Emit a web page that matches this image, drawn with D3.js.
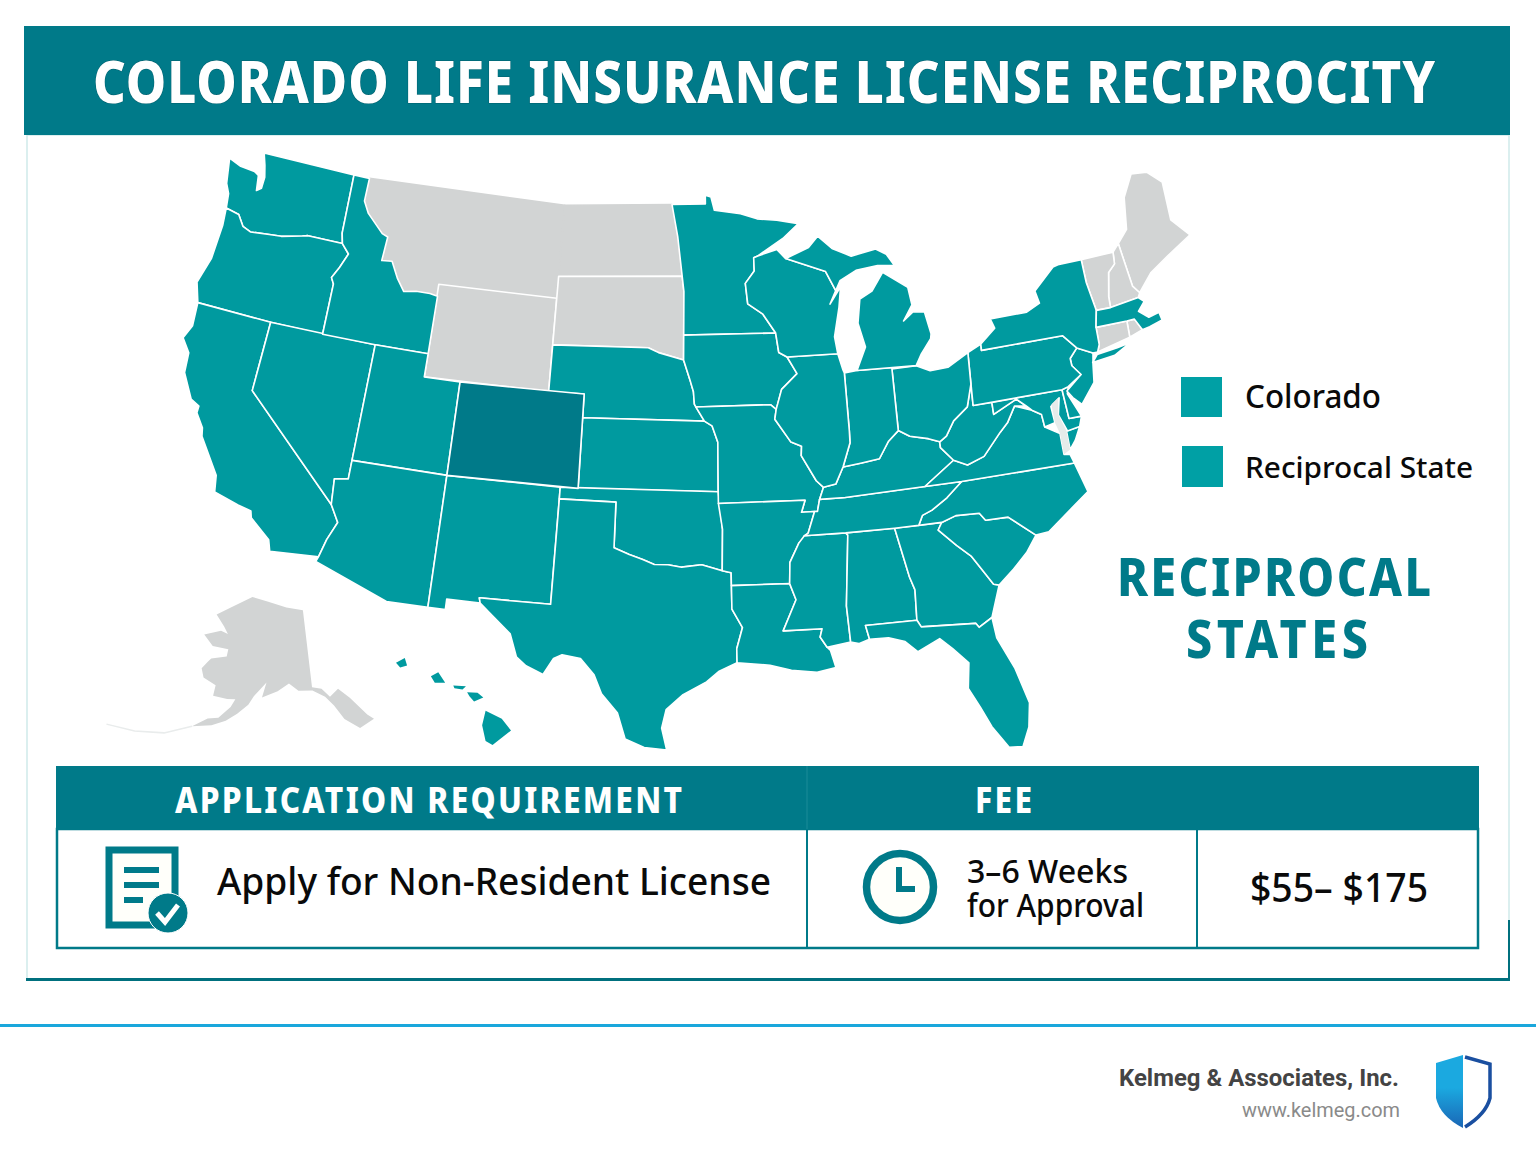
<!DOCTYPE html>
<html>
<head>
<meta charset="utf-8">
<title>Colorado Life Insurance License Reciprocity</title>
<script src="https://cdn.jsdelivr.net/npm/d3@7.9.0/dist/d3.min.js"></script>
<style>
html, body { margin: 0; padding: 0; background: #fff; }
svg { display: block; }
</style>
</head>
<body>
<svg id="chart" width="1536" height="1154"></svg>
<script>
// state outlines as [lon, lat], estimated by eye
const WA = [[-124.7,48.38],[-123.9,48.17],[-123,48.12],[-122.7,48],[-122.55,47.35],[-122.3,47.5],[-122.3,48],[-122.5,48.5],[-122.76,49],[-117.03,49],[-117.04,46.43],[-116.92,45.99],[-118.98,46],[-119.3,45.93],[-120.5,45.7],[-121.2,45.65],[-122.3,45.55],[-122.8,45.7],[-123.2,46.15],[-124,46.27],[-124.1,46.9],[-124.4,47.3]];
const OR = [[-124,46.27],[-123.2,46.15],[-122.8,45.7],[-122.3,45.55],[-121.2,45.65],[-120.5,45.7],[-119.3,45.93],[-118.98,46],[-116.92,45.99],[-116.47,45.6],[-116.85,44.95],[-117.2,44.45],[-117.03,44.2],[-117.03,42],[-120,42],[-124.21,42],[-124.55,42.84],[-124.1,44],[-123.95,45.5]];
const CA = [[-124.21,42],[-120,42],[-120,39],[-114.63,35],[-114.13,34.3],[-114.5,33.5],[-114.72,32.72],[-117.12,32.53],[-117.3,33],[-118.4,33.75],[-118.5,34.03],[-119.2,34.15],[-120.5,34.45],[-120.65,35.15],[-121.9,36.6],[-122,36.95],[-122.5,37.5],[-122.5,37.8],[-123,38],[-123.75,39],[-123.85,39.85],[-124.4,40.4],[-124.1,41]];
const NV = [[-120,42],[-114.04,42],[-114.04,36.2],[-114.74,36.1],[-114.63,35],[-120,39]];
const ID = [[-117.03,49],[-116.05,49],[-116.05,48],[-115.7,47.5],[-114.7,46.75],[-114.35,46.65],[-114.5,45.6],[-113.9,45.65],[-113.45,44.95],[-113,44.45],[-112.3,44.55],[-111.5,44.55],[-111.05,44.48],[-111.05,42],[-114.04,42],[-117.03,42],[-117.03,44.2],[-117.2,44.45],[-116.85,44.95],[-116.47,45.6],[-116.92,45.99],[-117.04,46.43]];
const MT = [[-116.05,49],[-104.05,49],[-104.05,45],[-111.05,45],[-111.05,44.48],[-111.5,44.55],[-112.3,44.55],[-113,44.45],[-113.45,44.95],[-113.9,45.65],[-114.5,45.6],[-114.35,46.65],[-114.7,46.75],[-115.7,47.5],[-116.05,48]];
const WY = [[-111.05,45],[-104.05,45],[-104.05,41],[-111.05,41]];
const UT = [[-114.04,42],[-111.05,42],[-111.05,41],[-109.05,41],[-109.05,37],[-114.04,37]];
const CO = [[-109.05,41],[-102.05,41],[-102.05,37],[-109.05,37]];
const AZ = [[-114.04,37],[-109.05,37],[-109.05,31.33],[-111.07,31.33],[-114.81,32.5],[-114.72,32.72],[-114.5,33.5],[-114.13,34.3],[-114.63,35],[-114.74,36.1],[-114.04,36.2]];
const NM = [[-109.05,37],[-103,37],[-103.04,32],[-106.6,32],[-106.53,31.78],[-108.2,31.78],[-108.2,31.33],[-109.05,31.33]];
const ND = [[-104.05,49],[-97.23,49],[-96.85,47.6],[-96.56,45.94],[-104.05,45.94]];
const SD = [[-104.05,45.94],[-96.56,45.94],[-96.45,45.3],[-96.45,43.5],[-96.45,42.49],[-97.9,42.8],[-98.5,43],[-104.05,43]];
const NE = [[-104.05,43],[-98.5,43],[-97.9,42.8],[-96.45,42.49],[-96.1,41.7],[-95.9,41.2],[-95.85,40.7],[-95.31,40],[-102.05,40],[-102.05,41],[-104.05,41]];
const KS = [[-102.05,40],[-95.31,40],[-94.9,39.8],[-94.6,39.1],[-94.62,37],[-102.05,37]];
const OK = [[-103,37],[-94.62,37],[-94.43,35.4],[-94.48,33.64],[-95.5,33.9],[-96.5,33.8],[-97.2,33.9],[-97.9,33.9],[-98.5,34.1],[-99.2,34.3],[-100,34.56],[-100,36.5],[-103,36.5]];
const TX = [[-103,36.5],[-100,36.5],[-100,34.56],[-99.2,34.3],[-98.5,34.1],[-97.9,33.9],[-97.2,33.9],[-96.5,33.8],[-95.5,33.9],[-94.48,33.64],[-94.04,33.55],[-94.04,33],[-94.04,32],[-93.55,31.2],[-93.85,30.3],[-93.85,29.7],[-94.7,29.35],[-95.3,28.9],[-96.4,28.35],[-97.2,27.7],[-97.4,26.9],[-97.15,25.96],[-98.2,26.05],[-99.1,26.4],[-99.5,27.5],[-100.3,28.3],[-100.7,29.1],[-101.4,29.77],[-102.3,29.88],[-102.7,29.7],[-103.15,28.98],[-104,29.3],[-104.5,29.65],[-104.9,30.6],[-106,31.4],[-106.53,31.78],[-106.6,32],[-103.04,32]];
const MN = [[-97.23,49],[-95.15,49],[-95.15,49.38],[-94.8,49.3],[-94.6,48.72],[-93,48.55],[-92,48.3],[-90.8,48.2],[-89.5,48],[-90.5,47.4],[-92.05,46.72],[-92.3,46.65],[-92.3,46.1],[-92.85,45.6],[-92.75,44.75],[-91.9,44.3],[-91.22,43.5],[-96.45,43.5],[-96.45,45.3],[-96.56,45.94],[-96.85,47.6]];
const IA = [[-96.45,43.5],[-91.22,43.5],[-91.1,42.7],[-90.65,42.5],[-90.15,41.8],[-91.05,41.2],[-91.4,40.4],[-91.7,40.6],[-95.77,40.58],[-95.85,40.7],[-95.9,41.2],[-96.1,41.7],[-96.45,42.49]];
const MO = [[-95.77,40.58],[-91.7,40.6],[-91.4,40.4],[-91.5,40],[-90.7,39],[-90.15,38.8],[-90.2,38.4],[-89.5,37.3],[-89.15,37],[-89.4,36.5],[-89.55,36],[-90.37,36],[-90.15,36.5],[-94.62,36.5],[-94.62,37],[-94.6,39.1],[-94.9,39.8],[-95.31,40]];
const AR = [[-94.62,36.5],[-90.15,36.5],[-90.37,36],[-89.7,36],[-90.1,35.1],[-90.6,34.7],[-91.1,33.9],[-91.17,33],[-94.04,33],[-94.04,33.55],[-94.48,33.64],[-94.43,35.4]];
const LA = [[-94.04,33],[-91.17,33],[-90.9,32.3],[-91.6,31],[-89.73,31],[-89.85,30.65],[-89.55,30.2],[-89.4,30.05],[-89.2,29.3],[-90.1,29.15],[-91.3,29.3],[-92.3,29.55],[-93.85,29.7],[-93.85,30.3],[-93.55,31.2],[-94.04,32]];
const MS = [[-90.3,35],[-88.2,35],[-88.1,34.9],[-88.47,31.9],[-88.4,30.35],[-89.55,30.2],[-89.85,30.65],[-89.73,31],[-91.6,31],[-90.9,32.3],[-91.17,33],[-91.1,33.9],[-90.6,34.7]];
const AL = [[-88.2,35],[-85.6,35],[-85.18,32.87],[-85,32.3],[-85.05,31],[-87.6,31],[-87.45,30.4],[-88,30.25],[-88.4,30.35],[-88.47,31.9],[-88.1,34.9]];
const GA = [[-85.6,35],[-83.1,35],[-83.35,34.7],[-82.55,33.95],[-81.9,33.4],[-81.4,32.6],[-81.1,32.1],[-80.85,32.03],[-81.4,30.7],[-82.05,30.36],[-82.2,30.55],[-84.86,30.7],[-85.05,31],[-85,32.3],[-85.18,32.87]];
const FL = [[-87.6,31],[-85.05,31],[-84.86,30.7],[-82.2,30.55],[-82.05,30.36],[-81.4,30.7],[-81.25,29.8],[-80.55,28.4],[-80.03,26.8],[-80.15,25.75],[-80.5,24.95],[-81.1,25.0],[-81.75,26],[-82.2,26.9],[-82.75,27.8],[-82.65,28.9],[-83.4,29.6],[-84,30.1],[-85.1,29.65],[-85.7,30.15],[-86.5,30.38],[-87.45,30.4]];
const SC = [[-83.35,34.7],[-83.1,35],[-82.3,35.2],[-81.05,35.15],[-80.8,34.82],[-79.67,34.8],[-78.55,33.86],[-79.2,33.2],[-80,32.6],[-80.85,32.03],[-81.1,32.1],[-81.4,32.6],[-81.9,33.4],[-82.55,33.95]];
const NC = [[-81.68,36.59],[-75.87,36.55],[-75.5,35.25],[-76.5,34.7],[-77.9,33.9],[-78.55,33.86],[-79.67,34.8],[-80.8,34.82],[-81.05,35.15],[-82.3,35.2],[-83.1,35],[-84.32,35],[-84.05,35.4],[-83.5,35.57],[-82.6,36]];
const TN = [[-90.3,35],[-88.2,35],[-85.6,35],[-84.32,35],[-84.05,35.4],[-83.5,35.57],[-82.6,36],[-81.68,36.59],[-83.68,36.6],[-88.07,36.5],[-89.4,36.5],[-89.55,36],[-89.7,36],[-90.1,35.1]];
const KY = [[-89.4,36.5],[-88.07,36.5],[-83.68,36.6],[-81.97,37.54],[-82.6,38.15],[-82.6,38.4],[-83.2,38.6],[-84.2,38.8],[-84.8,39.1],[-85.4,38.7],[-86,38],[-87,37.9],[-88.05,37.8],[-88.5,37.1],[-89.15,37]];
const VA = [[-83.68,36.6],[-81.68,36.59],[-75.87,36.55],[-76,36.95],[-76.3,37],[-76.3,37.9],[-77,38.3],[-77.05,38.85],[-77.5,39.1],[-78.35,39.4],[-78.85,38.75],[-79.3,38.4],[-80.3,37.5],[-81.25,37.25],[-81.97,37.54]];
const VAshore = [[-75.95,37.95],[-75.25,38.03],[-75.6,37.5],[-75.95,37.15]];
const WV = [[-81.97,37.54],[-81.25,37.25],[-80.3,37.5],[-79.3,38.4],[-78.85,38.75],[-78.35,39.4],[-77.75,39.32],[-78.2,39.68],[-79.48,39.2],[-79.48,39.72],[-80.52,39.72],[-80.52,40.64],[-80.85,39.7],[-81.7,39.2],[-82.2,38.6],[-82.6,38.4],[-82.6,38.15]];
const MD = [[-79.48,39.72],[-75.79,39.72],[-75.7,38.46],[-75.05,38.45],[-75.25,38.03],[-75.9,37.95],[-76.2,38.7],[-76,39.4],[-76.5,39.1],[-76.45,38.4],[-77,38.3],[-77.05,38.85],[-77.5,39.1],[-77.75,39.32],[-78.2,39.68],[-79.48,39.2]];
const DE = [[-75.79,39.72],[-75.45,39.8],[-75.55,39.5],[-75.05,38.45],[-75.7,38.46]];
const NJ = [[-75.55,39.63],[-74.7,40.2],[-75.1,40.65],[-75.13,40.97],[-74.7,41.36],[-73.9,41],[-74,40.5],[-74.1,39.75],[-74.9,38.93],[-75.3,39.3]];
const PA = [[-80.52,39.72],[-80.52,42],[-79.76,42.27],[-79.76,42],[-75.35,42],[-74.7,41.36],[-75.13,40.97],[-75.1,40.65],[-74.7,40.2],[-75.45,39.8],[-75.79,39.72]];
const NY = [[-79.76,42],[-79.76,42.27],[-78.9,42.85],[-79.05,43.27],[-77,43.28],[-76.2,43.55],[-76.3,44.1],[-75,44.95],[-74.7,45],[-73.35,45],[-73.4,44],[-73.25,42.75],[-73.5,42.05],[-73.5,41.3],[-73.65,41],[-73.9,41],[-74.7,41.36],[-75.35,42]];
const LongIsland = [[-74,40.6],[-73.7,40.9],[-72.6,41],[-71.9,41.08],[-72.8,40.7]];
const OH = [[-84.82,41.7],[-83.45,41.73],[-82.7,41.45],[-81.7,41.5],[-80.52,42],[-80.52,40.64],[-80.85,39.7],[-81.7,39.2],[-82.2,38.6],[-82.6,38.4],[-83.2,38.6],[-84.2,38.8],[-84.8,39.1]];
const IN = [[-87.53,41.7],[-86.8,41.76],[-84.82,41.76],[-84.8,39.1],[-85.4,38.7],[-86,38],[-87,37.9],[-88.05,37.8],[-87.55,38.8],[-87.53,39.3]];
const IL = [[-90.65,42.5],[-87.8,42.5],[-87.6,41.85],[-87.53,41.7],[-87.53,39.3],[-87.55,38.8],[-88.05,37.8],[-88.5,37.1],[-89.15,37],[-89.5,37.3],[-90.2,38.4],[-90.15,38.8],[-90.7,39],[-91.5,40],[-91.4,40.4],[-91.05,41.2],[-90.15,41.8]];
const WI = [[-92.05,46.72],[-90.9,46.95],[-90.4,46.55],[-88.1,45.9],[-87.6,45.1],[-88,44.55],[-87.3,45.25],[-87.5,44.4],[-87.9,43.2],[-87.8,42.5],[-90.65,42.5],[-91.1,42.7],[-91.22,43.5],[-91.9,44.3],[-92.75,44.75],[-92.85,45.6],[-92.3,46.1],[-92.3,46.65]];
const MIlower = [[-86.8,41.76],[-83.45,41.73],[-83.1,42.2],[-82.5,42.8],[-82.45,43],[-82.65,43.95],[-83.3,44],[-83.9,43.65],[-83.3,44.3],[-83.4,45.05],[-84.75,45.75],[-85.5,45],[-86.25,44.7],[-86.5,43.7],[-86.2,42.7]];
const MIupper = [[-90.4,46.55],[-89,46.95],[-88.4,47.4],[-87.6,46.85],[-86.5,46.5],[-85,46.75],[-84.4,46.5],[-84,46],[-85,46.05],[-86.3,45.9],[-87.3,45.5],[-87.6,45.1],[-88.1,45.9]];
const VT = [[-73.35,45],[-71.5,45],[-71.6,44.5],[-72.05,44.2],[-72.4,43.2],[-72.46,42.73],[-73.25,42.75],[-73.4,44]];
const NH = [[-71.5,45],[-71.08,45.3],[-70.98,43.4],[-70.7,43.05],[-70.85,42.87],[-72.46,42.73],[-72.4,43.2],[-72.05,44.2],[-71.6,44.5]];
const ME = [[-71.08,45.3],[-70.4,45.8],[-70,47.15],[-69.2,48.05],[-68.3,47.95],[-67.6,47.35],[-67.8,45.7],[-67,44.85],[-68.5,44.3],[-69.8,43.75],[-70.7,43.05],[-70.98,43.4]];
const MA = [[-73.5,42.05],[-73.25,42.75],[-72.46,42.73],[-70.85,42.87],[-70.6,42.65],[-71.05,42.3],[-70.6,41.95],[-70,42.05],[-69.95,41.7],[-70.7,41.55],[-71.12,41.5],[-71.38,42.02],[-71.8,42.02]];
const RI = [[-71.8,42.02],[-71.38,42.02],[-71.12,41.5],[-71.85,41.32]];
const CT = [[-73.5,42.05],[-71.8,42.02],[-71.85,41.32],[-73.65,41],[-73.5,41.3]];
const Chesapeake = [[-76.45,39.2],[-76.05,39.4],[-76.2,38.7],[-75.95,37.95],[-75.95,37.15],[-76.3,37],[-76.3,37.9],[-76.45,38.4]];

const AK = [[-141,69.65],[-141,60.3],[-139,60],[-137.5,58.9],[-135.5,59.7],[-133.5,58.4],[-131,56],[-130,55.3],[-133,54.6],[-135.5,56],[-137,57.8],[-138.5,59],[-141,59.9],[-144,60],[-146,60.9],[-148.5,60],[-151.8,59.2],[-151,61],[-152.5,60],[-153.5,59.3],[-154.5,58.2],[-156.5,57],[-158.5,56],[-161,55.2],[-164.5,54.6],[-162,55.9],[-160,56.2],[-158,57.7],[-157.3,58.7],[-159,58.6],[-162,58.7],[-162,60],[-165,60.6],[-166,61.6],[-165,62.6],[-164.5,63],[-161,63.6],[-161,64.5],[-165,64.5],[-168,65.6],[-164,66.5],[-162,66.3],[-163.5,67.1],[-166.5,68.3],[-163,69.5],[-157,71.2],[-152,70.8],[-146,70.1]];
const Aleutians = [[-164.5,54.6],[-169,53],[-174,52.1],[-179,51.6]];

const HIbig = [[-155.9,20.25],[-155.2,19.95],[-154.8,19.5],[-155.6,18.95],[-155.9,19.1],[-156.05,19.7]];
const HImaui = [[-156.7,20.95],[-156.25,20.93],[-156,20.75],[-156.4,20.6],[-156.6,20.8]];
const HImolokai = [[-157.3,21.2],[-156.75,21.17],[-156.9,21.05],[-157.25,21.1]];
const HIoahu = [[-158.27,21.55],[-157.95,21.7],[-157.65,21.3],[-158.1,21.3]];
const HIkauai = [[-159.78,22.05],[-159.4,22.23],[-159.3,21.95],[-159.6,21.88]];

const reciprocalStates = ["WA","OR","CA","NV","ID","UT","AZ","NM","NE","KS","OK","TX","MN","IA","MO","AR","LA","MS","AL","GA","FL","SC","NC","TN","KY","VA","WV","MD","DE","NJ","PA","NY","OH","IN","IL","WI","MI","MA"];
const greyStates = ["WY","SD","ME","NH","VT","RI","CT"];
// no line between these two in the picture
const greyMerged = ["MT","ND"];
const homeState = ["CO"];
const stateRings = {WA:[WA],OR:[OR],CA:[CA],NV:[NV],ID:[ID],UT:[UT],AZ:[AZ],NM:[NM],NE:[NE],KS:[KS],OK:[OK],TX:[TX],MN:[MN],IA:[IA],MO:[MO],AR:[AR],LA:[LA],MS:[MS],AL:[AL],GA:[GA],FL:[FL],SC:[SC],NC:[NC],TN:[TN],KY:[KY],VA:[VA,VAshore],WV:[WV],MD:[MD],DE:[DE],NJ:[NJ],PA:[PA],NY:[NY,LongIsland],OH:[OH],IN:[IN],IL:[IL],WI:[WI],MI:[MIlower,MIupper],MA:[MA],MT:[MT],ND:[ND],SD:[SD],WY:[WY],ME:[ME],NH:[NH],VT:[VT],RI:[RI],CT:[CT],CO:[CO]};
const hawaiiRings = [HIbig, HImaui, HImolokai, HIoahu, HIkauai];

const legendLabels = ["Colorado", "Reciprocal State"];
const tableHeads = ["APPLICATION REQUIREMENT", "FEE"];
const approvalLines = ["3–6 Weeks", "for Approval"];

const TEAL = "#009a9f", DARK = "#007a89", GREY = "#d2d4d4";
const svg = d3.select("#chart");

// heavy caps, squeezed sideways like the lettering in the picture
function squeezedCaps(x, y, size, width, fill, label) {
    const squeeze = 0.88;
    return svg.append("text").attr("transform", `translate(${x},${y}) scale(${squeeze},1)`)
        .attr("font-family","Noto Sans").attr("font-weight",800).attr("font-size",size)
        .attr("textLength",width / squeeze).attr("lengthAdjust","spacing").attr("fill",fill).text(label);
}

// frame
svg.append("rect").attr("x",27).attr("y",135).attr("width",1482).attr("height",844).attr("fill","#fff").attr("stroke","#cfeaea").attr("stroke-width",1.5);
svg.append("line").attr("x1",26).attr("x2",1510).attr("y1",979.5).attr("y2",979.5).attr("stroke","#00707e").attr("stroke-width",3);
svg.append("line").attr("x1",1509).attr("x2",1509).attr("y1",920).attr("y2",980).attr("stroke","#00707e").attr("stroke-width",2);
svg.append("rect").attr("x",24).attr("y",26).attr("width",1486).attr("height",109).attr("fill",DARK);
squeezedCaps(93,103,58,1342,"#fff","COLORADO LIFE INSURANCE LICENSE RECIPROCITY")
    .attr("stroke","#00606e").attr("stroke-width",1).attr("paint-order","stroke");

// projected points get stretched to the box the map takes in the picture
const conus = d3.geoConicEqualArea().parallels([29.5,45.5]).rotate([96,0]).center([0,38]).scale(1000).translate([0,0]);
const allPoints = Object.values(stateRings).flat(2).map(conus);
// Maine and Florida run past the box in the picture, so height is fitted without them
const fitPoints = Object.entries(stateRings).filter(e => e[0] !== "ME" && e[0] !== "FL").flatMap(e => e[1].flat()).map(conus);
const xMap = d3.scaleLinear().domain(d3.extent(allPoints, d => d[0])).range([183,1190]);
const yMap = d3.scaleLinear().domain(d3.extent(fitPoints, d => d[1])).range([153,750]);
const lineClosed = d3.line().curve(d3.curveLinearClosed);

// small bends, the drawing in the picture is not a true projection
const xBend = d3.scaleLinear().domain([183,447,581,690,900,1000,1100,1160,1190]).range([183,447,578,684,894,995,1098,1160,1190]);
const southShift = d3.scaleLinear().domain([330,400,490,600,740]).range([0,-6,-9,-3,-16]).clamp(true);
const eastPart = d3.scaleLinear().domain([850,1000]).range([0,1]).clamp(true);
const nwShift = d3.scaleLinear().domain([200,300]).range([-6,0]).clamp(true);
const westPart = d3.scaleLinear().domain([450,560]).range([1,0]).clamp(true);
const upShift = d3.scaleLinear().domain([250,335,420]).range([-7,-4,0]).clamp(true);
const midPart = d3.scaleLinear().domain([560,690,830,950]).range([0,1,1,0]).clamp(true);

function bendMap(p) {
    const x = xMap(p[0]), y = yMap(p[1]);
    return [xBend(x) + southShift(y) * eastPart(x) + nwShift(y) * westPart(x), y + upShift(y) * midPart(x)];
}
function ringPath(rings, toPixel) {
    return rings.map(r => lineClosed(r.map(toPixel))).join("");
}

const mapG = svg.append("g");
function drawStates(names, fill, stroke) {
    mapG.selectAll(null).data(names).enter().append("path")
        .attr("d", d => ringPath(stateRings[d], p => bendMap(conus(p))))
        .attr("fill", fill).attr("stroke",stroke).attr("stroke-width",1.6).attr("stroke-linejoin","round");
}
drawStates(greyMerged, GREY, GREY);
drawStates(greyStates, GREY, "#fff");
drawStates(reciprocalStates, TEAL, "#fff");
drawStates(homeState, DARK, "#fff");
mapG.append("path").attr("d", ringPath([Chesapeake], p => bendMap(conus(p)))).attr("fill","#e6ebea");

// Alaska inset
const akProj = d3.geoConicEqualArea().parallels([55,65]).rotate([148,0]).center([0,60]).scale(1000).translate([0,0]);
const akPts = AK.map(akProj);
const xAk = d3.scaleLinear().domain(d3.extent(akPts, d => d[0])).range([192,374]);
const yAk = d3.scaleLinear().domain(d3.extent(akPts, d => d[1])).range([597,728]);
const akPixel = p => { const q = akProj(p); return [xAk(q[0]), yAk(q[1])]; };
svg.append("path").attr("d", d3.line()(Aleutians.map(akPixel))).attr("fill","none").attr("stroke","#e9ecec").attr("stroke-width",1.5);
svg.append("path").attr("d", ringPath([AK], akPixel)).attr("fill",GREY);

// Hawaii inset
const hiProj = d3.geoMercator().scale(1000).translate([0,0]);
const hiPts = hawaiiRings.flat().map(hiProj);
const xHi = d3.scaleLinear().domain(d3.extent(hiPts, d => d[0])).range([396,511]);
const yHi = d3.scaleLinear().domain(d3.extent(hiPts, d => d[1])).range([658,745]);
svg.append("path").attr("d", ringPath(hawaiiRings, p => { const q = hiProj(p); return [xHi(q[0]), yHi(q[1])]; })).attr("fill",TEAL);

// legend
const legend = svg.append("g").selectAll("g").data(legendLabels).enter().append("g");
legend.append("rect").attr("x",(d,i)=>1181+i).attr("y",(d,i)=>377+i*69).attr("width",41).attr("height",(d,i)=>40+i).attr("fill","#00a0a5");
legend.append("text").attr("x",1245).attr("y",(d,i)=>408+i*70).attr("font-family","Noto Sans").attr("font-weight",500).attr("font-size",(d,i)=>i?29:32)
    .attr("textLength",(d,i)=>i?228:136).attr("lengthAdjust","spacingAndGlyphs").attr("fill","#0a0a0a").text(d=>d);

squeezedCaps(1117,596,53,314,DARK,"RECIPROCAL");
squeezedCaps(1186,658,53,182,DARK,"STATES");

// table
svg.append("rect").attr("x",57).attr("y",829).attr("width",1421).attr("height",119).attr("fill","#fff").attr("stroke",DARK).attr("stroke-width",2.5);
svg.append("rect").attr("x",56).attr("y",766).attr("width",1423).attr("height",63).attr("fill",DARK);
[807,1197].forEach(x => svg.append("line").attr("x1",x).attr("x2",x).attr("y1",829).attr("y2",948).attr("stroke",DARK).attr("stroke-width",2));
svg.append("line").attr("x1",807).attr("x2",807).attr("y1",766).attr("y2",829).attr("stroke","#1a8b98").attr("stroke-width",1);
tableHeads.forEach((d,i) => squeezedCaps(i?975:175,813,36,i?57:507,"#fff",d));

svg.append("text").attr("x",217).attr("y",895).attr("font-family","Noto Sans").attr("font-weight",500).attr("font-size",38)
    .attr("textLength",554).attr("lengthAdjust","spacingAndGlyphs").attr("fill","#0a0a0a").text("Apply for Non-Resident License");
svg.selectAll(null).data(approvalLines).enter().append("text")
    .attr("x",967).attr("y",(d,i)=>883+i*34).attr("font-family","Noto Sans").attr("font-weight",500).attr("font-size",32)
    .attr("textLength",(d,i)=>i?177:161).attr("lengthAdjust","spacingAndGlyphs").attr("fill","#0a0a0a").text(d=>d);
svg.append("text").attr("x",1250).attr("y",902).attr("font-family","Noto Sans").attr("font-weight",500).attr("font-size",40)
    .attr("textLength",178).attr("lengthAdjust","spacingAndGlyphs").attr("fill","#0a0a0a").text("$55– $175");

// document icon
const doc = svg.append("g");
doc.append("rect").attr("x",109).attr("y",850).attr("width",66).attr("height",75).attr("fill","#fffffa").attr("stroke",DARK).attr("stroke-width",7);
[[124,159,870],[124,159,885],[124,143,900]].forEach(l => doc.append("line").attr("x1",l[0]).attr("x2",l[1]).attr("y1",l[2]).attr("y2",l[2]).attr("stroke",DARK).attr("stroke-width",6));
doc.append("circle").attr("cx",168).attr("cy",913).attr("r",20).attr("fill",DARK).attr("stroke","#fff").attr("stroke-width",1);
doc.append("path").attr("d","M157 913l8 9 13-17").attr("fill","none").attr("stroke","#fff").attr("stroke-width",5);

// clock icon
svg.append("circle").attr("cx",900).attr("cy",887).attr("r",33.5).attr("fill","#fffffa").attr("stroke",DARK).attr("stroke-width",7.5);
svg.append("path").attr("d","M899 867v22h16").attr("fill","none").attr("stroke",DARK).attr("stroke-width",6);

// footer
svg.append("line").attr("x1",0).attr("x2",1536).attr("y1",1025.5).attr("y2",1025.5).attr("stroke","#1aa7dc").attr("stroke-width",3);
svg.append("text").attr("x",1399).attr("y",1086).attr("text-anchor","end").attr("font-family","Roboto").attr("font-weight",700).attr("font-size",23.5)
    .attr("textLength",280).attr("lengthAdjust","spacingAndGlyphs").attr("fill","#444").text("Kelmeg & Associates, Inc.");
svg.append("text").attr("x",1400).attr("y",1117).attr("text-anchor","end").attr("font-family","Roboto").attr("font-size",20)
    .attr("textLength",158).attr("lengthAdjust","spacingAndGlyphs").attr("fill","#8a8a8a").text("www.kelmeg.com");

// shield
const grad = svg.append("defs").append("linearGradient").attr("id","shieldFill").attr("x1",0).attr("x2",0).attr("y1",0).attr("y2",1);
grad.append("stop").attr("offset","45%").attr("stop-color","#1ba9e0");
grad.append("stop").attr("offset","100%").attr("stop-color","#1a66b5");
svg.append("path").attr("d","M1463 1055L1436 1063V1098Q1440 1116 1463 1128Z").attr("fill","url(#shieldFill)");
svg.append("path").attr("d","M1465 1057L1490 1064V1098Q1486 1114 1465 1127").attr("fill","none").attr("stroke","#1a4fa0").attr("stroke-width",3.5);
</script>
</body>
</html>
